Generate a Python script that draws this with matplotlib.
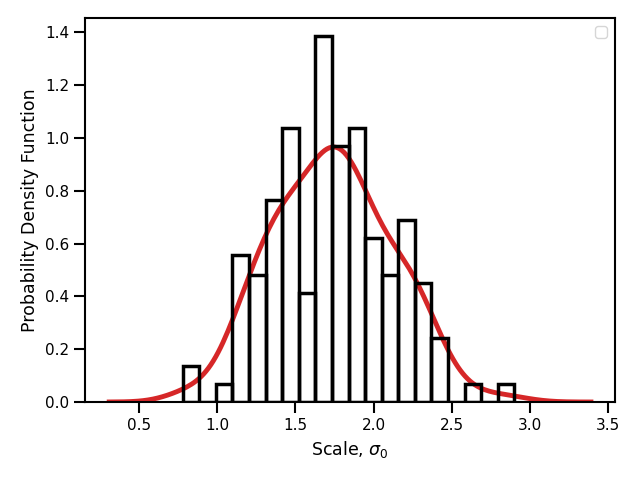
import matplotlib
matplotlib.use("Agg")
import matplotlib.pyplot as plt
import numpy as np
import seaborn as sns

# histogram bin edges (20 bins) and density heights
edges = np.linspace(0.78, 2.90, 21)
heights = [0.137, 0.0, 0.069, 0.556, 0.48, 0.764, 1.038, 0.412, 1.385, 0.968,
           1.038, 0.62, 0.48, 0.69, 0.45, 0.241, 0.0, 0.069, 0.0, 0.069]
centers = (edges[:-1] + edges[1:]) / 2

sns.set_context("notebook")
plt.rcParams.update({
    "axes.linewidth": 1.5,
    "axes.labelsize": 12.5,
    "xtick.major.size": 8,
    "ytick.major.size": 8,
    "xtick.major.width": 1.5,
    "ytick.major.width": 1.5,
})
fig, ax = plt.subplots(figsize=(6.4, 4.8), dpi=100)

# kde of the histogram data
sns.kdeplot(x=centers, weights=heights, bw_method=0.39, cut=3, clip=(0.31, 3.39),
            color="#d62728", lw=3.5, ax=ax, zorder=1)

ax.bar(edges[:-1], heights, width=np.diff(edges), align="edge", fill=False,
       edgecolor="black", lw=2.5, zorder=3)

ax.set_xlabel(r"Scale, $\sigma_0$")
ax.set_ylabel("Probability Density Function")
ax.legend()
fig.subplots_adjust(left=0.133, right=0.961, top=0.9625, bottom=0.1625)
fig.savefig("out.png")
